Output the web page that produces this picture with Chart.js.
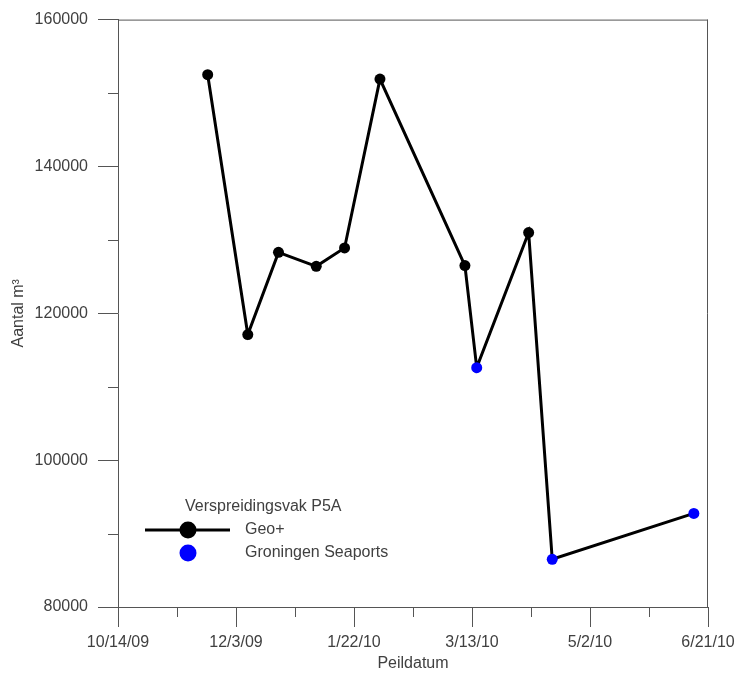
<!DOCTYPE html>
<html>
<head>
<meta charset="utf-8">
<script src="https://cdn.jsdelivr.net/npm/chart.js@4.4.1/dist/chart.umd.min.js"></script>
<style>
  html, body { margin: 0; padding: 0; background: #fff; }
  #wrap { width: 738px; height: 675px; }
</style>
</head>
<body>
<div id="wrap"><canvas id="chart"></canvas></div>
<script>
// Geo+ measurements (black)
const geoDates = ['2009-11-21', '2009-12-08', '2009-12-21', '2010-01-06', '2010-01-18', '2010-02-02', '2010-03-10', '2010-04-06'];
const geoValues = [152500, 117100, 128300, 126400, 128900, 151900, 126500, 131000];

// Groningen Seaports measurements (blue)
const gsDates = ['2010-03-15', '2010-04-16', '2010-06-15'];
const gsValues = [112600, 86500, 92750];

const xTickDates = ['2009-10-14', '2009-12-03', '2010-01-22', '2010-03-13', '2010-05-02', '2010-06-21'];
const yTicks = [80000, 100000, 120000, 140000, 160000];

const legendTitle = 'Verspreidingsvak P5A';
const seriesNames = ['Geo+', 'Groningen Seaports'];

const BLACK = '#000000';
const BLUE = '#0000ff';
const AXIS = '#555555';
const TEXT = '#404040';
const FONT = '"Liberation Sans", Arial, sans-serif';

function toMs(s) {
    const p = s.split('-').map(Number);
    return Date.UTC(p[0], p[1] - 1, p[2]);
}

function formatDate(ms) {
    const d = new Date(ms);
    const yy = String(d.getUTCFullYear() % 100).padStart(2, '0');
    return `${d.getUTCMonth() + 1}/${d.getUTCDate()}/${yy}`;
}

// merge both sources into one chronological line
const allPoints = [];
geoDates.forEach((d, i) => allPoints.push({ x: toMs(d), y: geoValues[i], src: 0 }));
gsDates.forEach((d, i) => allPoints.push({ x: toMs(d), y: gsValues[i], src: 1 }));
allPoints.sort((a, b) => a.x - b.x);
const pointColors = allPoints.map(p => p.src === 1 ? BLUE : BLACK);

const xMajor = xTickDates.map(toMs);

// minor ticks, frame and legend
const extras = {
    id: 'extras',
    afterDraw(chart) {
        const ctx = chart.ctx;
        const area = chart.chartArea;
        const xs = chart.scales.x;
        const ys = chart.scales.y;
        ctx.save();
        ctx.strokeStyle = AXIS;
        ctx.lineWidth = 1;
        ctx.beginPath();
        // frame top / right
        ctx.moveTo(area.left, area.top + 0.5);
        ctx.lineTo(area.right, area.top + 0.5);
        ctx.moveTo(area.right - 0.5, area.top);
        ctx.lineTo(area.right - 0.5, area.bottom);
        // minor x ticks
        for (let i = 0; i < xMajor.length - 1; i++) {
            const px = Math.round(xs.getPixelForValue((xMajor[i] + xMajor[i + 1]) / 2)) + 0.5;
            ctx.moveTo(px, area.bottom);
            ctx.lineTo(px, area.bottom + 10);
        }
        // minor y ticks
        for (let i = 0; i < yTicks.length - 1; i++) {
            const py = Math.round(ys.getPixelForValue((yTicks[i] + yTicks[i + 1]) / 2)) + 0.5;
            ctx.moveTo(area.left, py);
            ctx.lineTo(area.left - 10, py);
        }
        ctx.stroke();

        // legend
        ctx.fillStyle = TEXT;
        ctx.font = '16px ' + FONT;
        ctx.textBaseline = 'middle';
        ctx.textAlign = 'left';
        ctx.fillText(legendTitle, 185, 507);
        ctx.fillText(seriesNames[0], 245, 530);
        ctx.fillText(seriesNames[1], 245, 553);

        ctx.strokeStyle = BLACK;
        ctx.lineWidth = 3;
        ctx.beginPath();
        ctx.moveTo(145, 530);
        ctx.lineTo(230, 530);
        ctx.stroke();
        ctx.fillStyle = BLACK;
        ctx.beginPath();
        ctx.arc(188, 530, 8.5, 0, Math.PI * 2);
        ctx.fill();
        ctx.fillStyle = BLUE;
        ctx.beginPath();
        ctx.arc(188, 553, 8.5, 0, Math.PI * 2);
        ctx.fill();
        ctx.restore();
    }
};

new Chart(document.getElementById('chart'), {
    type: 'line',
    data: {
        datasets: [{
            label: seriesNames[0],
            data: allPoints,
            borderColor: BLACK,
            borderWidth: 3,
            pointBackgroundColor: pointColors,
            pointBorderColor: pointColors,
            pointRadius: 5.5,
            pointBorderWidth: 0,
            tension: 0,
            fill: false
        }]
    },
    plugins: [extras],
    options: {
        responsive: true,
        maintainAspectRatio: false,
        animation: false,
        events: [],
        layout: { padding: { top: 19, right: 30, bottom: 0, left: 0 } },
        plugins: {
            legend: { display: false },
            tooltip: { enabled: false }
        },
        scales: {
            x: {
                type: 'linear',
                min: xMajor[0],
                max: xMajor[xMajor.length - 1],
                afterBuildTicks(scale) {
                    scale.ticks = xMajor.map(v => ({ value: v }));
                },
                afterFit(scale) {
                    scale.height = 68;
                    scale.paddingLeft = 0;
                    scale.paddingRight = 0;
                },
                ticks: {
                    callback: v => formatDate(v),
                    color: TEXT,
                    font: { family: FONT, size: 16 },
                    padding: 6,
                    maxRotation: 0,
                    autoSkip: false
                },
                grid: {
                    drawOnChartArea: false,
                    tickLength: 20,
                    color: AXIS,
                    tickColor: AXIS
                },
                border: { color: AXIS, width: 1 },
                title: {
                    display: true,
                    text: 'Peildatum',
                    color: TEXT,
                    font: { family: FONT, size: 16 },
                    padding: { top: 0, bottom: 2 }
                }
            },
            y: {
                min: 80000,
                max: 160000,
                afterBuildTicks(scale) {
                    scale.ticks = yTicks.map(v => ({ value: v }));
                },
                afterFit(scale) { scale.width = 118; },
                ticks: {
                    callback: v => String(v),
                    color: TEXT,
                    font: { family: FONT, size: 16 },
                    padding: 10
                },
                grid: {
                    drawOnChartArea: false,
                    tickLength: 20,
                    color: AXIS,
                    tickColor: AXIS
                },
                border: { color: AXIS, width: 1 },
                title: {
                    display: true,
                    text: 'Aantal m³',
                    color: TEXT,
                    font: { family: FONT, size: 16 },
                    padding: { top: 9, bottom: 0 }
                }
            }
        }
    }
});
</script>
</body>
</html>
